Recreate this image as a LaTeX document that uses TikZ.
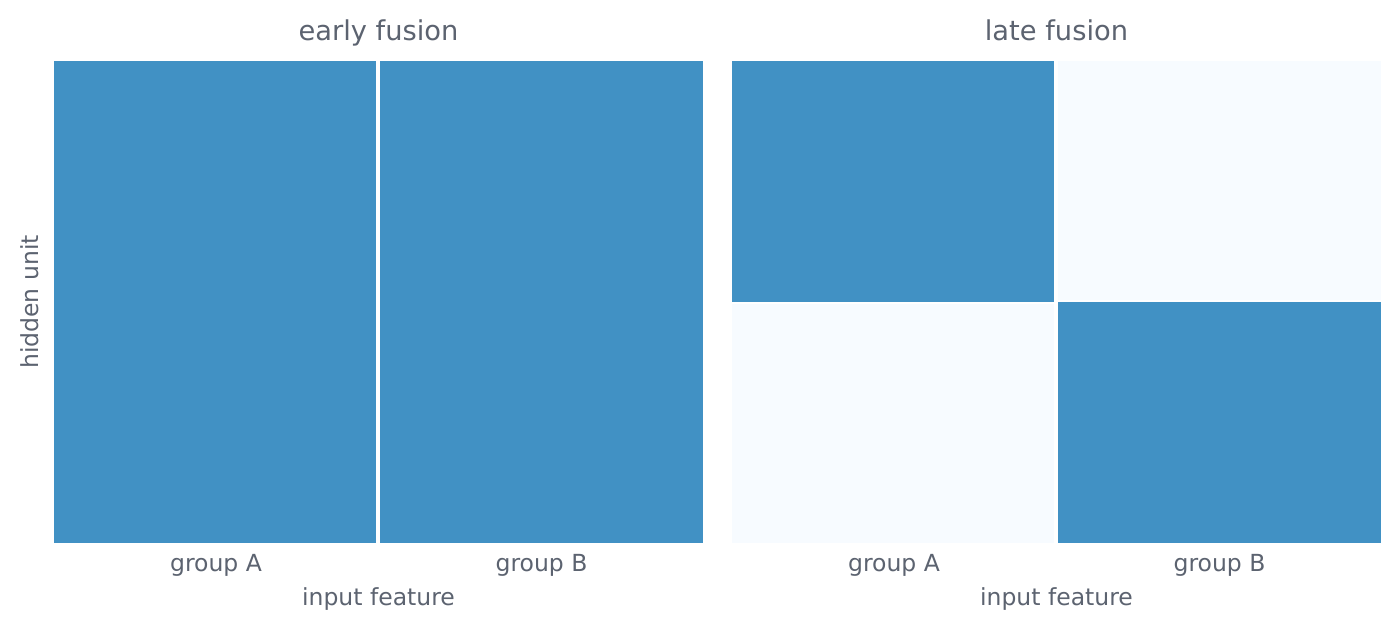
\documentclass[tikz,border=0pt]{standalone}
\usepackage{fontspec}
\setmainfont{DejaVu Sans}
\definecolor{cellblue}{HTML}{4191C4}
\definecolor{celllight}{HTML}{F7FBFF}
\definecolor{txtgrey}{HTML}{5C6370}
\begin{document}
\begin{tikzpicture}[x=1bp,y=-1bp,
  cell/.style={inner sep=0pt, outer sep=0pt},
  ttl/.style={text=txtgrey, font=\fontsize{27.3bp}{32bp}\selectfont, anchor=base, inner sep=0pt},
  lbl/.style={text=txtgrey, font=\fontsize{23.5bp}{28bp}\selectfont, anchor=base, inner sep=0pt}]
\useasboundingbox[fill=white] (0,0) rectangle (1399,630);
% early fusion panel
\fill[cellblue] (54,61) rectangle (376,543);
\fill[cellblue] (380,61) rectangle (703,543);
% late fusion panel
\fill[cellblue] (732,61) rectangle (1054,302);
\fill[celllight] (1058,61) rectangle (1381,300);
\fill[celllight] (732,304) rectangle (1054,543);
\fill[cellblue] (1058,302) rectangle (1381,543);
% titles
\node[ttl] (t1) at (378.5,40.5) {early fusion};
\node[ttl] (t2) at (1056.5,40.5) {late fusion};
% tick labels
\node[lbl] (a1) at (216,571) {group A};
\node[lbl] (b1) at (541.5,571) {group B};
\node[lbl] (a2) at (894,571) {group A};
\node[lbl] (b2) at (1219.5,571) {group B};
% axis labels
\node[lbl] (x1) at (378.5,605) {input feature};
\node[lbl] (x2) at (1056.5,605) {input feature};
\node[lbl, rotate=90] (y1) at (38,302) {hidden unit};
\end{tikzpicture}
\end{document}
